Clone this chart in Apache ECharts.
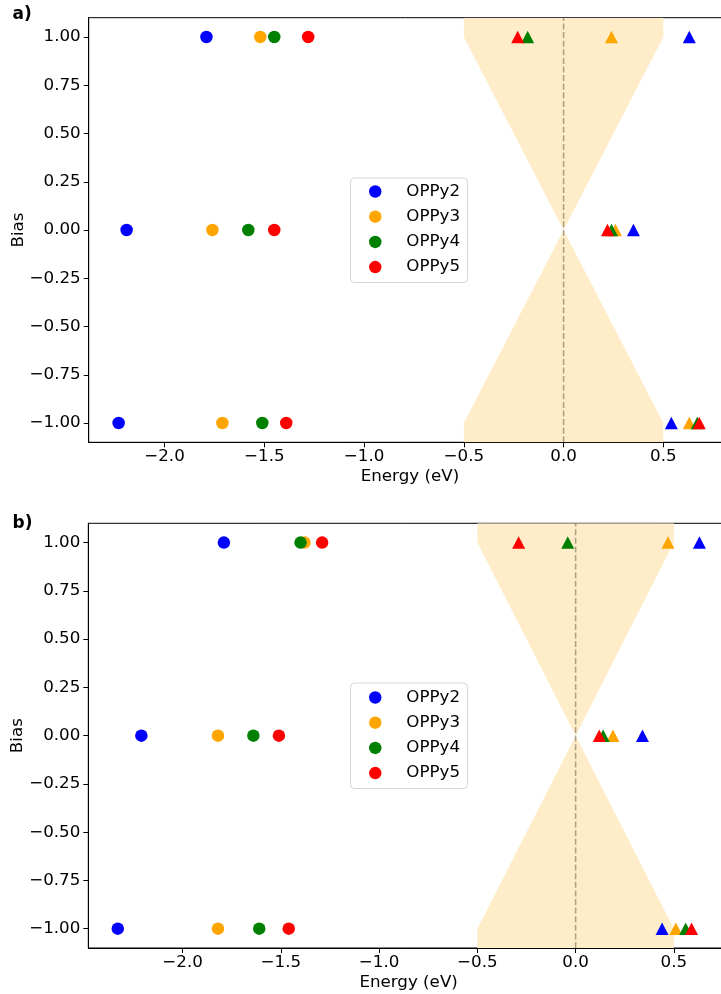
<!DOCTYPE html>
<html>
<head>
<meta charset="utf-8">
<script src="https://cdn.jsdelivr.net/npm/echarts@6/dist/echarts.min.js"></script>
<style>
  html, body { margin: 0; padding: 0; background: #ffffff; }
  #chart { width: 721px; height: 994px; }
</style>
</head>
<body>
<div id="chart"></div>
<script>
// Molecules and the bias values at which the levels were computed
const molecules = ['OPPy2', 'OPPy3', 'OPPy4', 'OPPy5'];
const biasValues = [1, 0, -1];

// Tick labels
const energyTicks = [-2.0, -1.5, -1.0, -0.5, 0.0, 0.5];
const biasTicks = [-1.0, -0.75, -0.5, -0.25, 0.0, 0.25, 0.5, 0.75, 1.0];

// Axis limits
const energyRangeA = [-2.38, 0.84];
const energyRangeB = [-2.48, 0.78];
const biasRange = [-1.1, 1.1];

// Panel a: level energies (eV) at bias 1, 0, -1
const aHomoOPPy2 = [-1.79, -2.19, -2.23];
const aHomoOPPy3 = [-1.52, -1.76, -1.71];
const aHomoOPPy4 = [-1.45, -1.58, -1.51];
const aHomoOPPy5 = [-1.28, -1.45, -1.39];
const aLumoOPPy2 = [0.63, 0.35, 0.54];
const aLumoOPPy3 = [0.24, 0.26, 0.63];
const aLumoOPPy4 = [-0.18, 0.24, 0.67];
const aLumoOPPy5 = [-0.23, 0.22, 0.68];

// Panel b: level energies (eV) at bias 1, 0, -1
const bHomoOPPy2 = [-1.79, -2.21, -2.33];
const bHomoOPPy3 = [-1.38, -1.82, -1.82];
const bHomoOPPy4 = [-1.40, -1.64, -1.61];
const bHomoOPPy5 = [-1.29, -1.51, -1.46];
const bLumoOPPy2 = [0.63, 0.34, 0.44];
const bLumoOPPy3 = [0.47, 0.19, 0.51];
const bLumoOPPy4 = [-0.04, 0.14, 0.56];
const bLumoOPPy5 = [-0.29, 0.12, 0.59];

// Bias window outline (energy, bias)
const windowEnergy = [-0.5, 0.5, 0.5, 0, 0.5, 0.5, -0.5, -0.5, 0, -0.5];
const windowBias = [1.1, 1.1, 1, 0, -1, -1.1, -1.1, -1, 0, 1];

// Zero-energy reference line
const zeroEnergy = [0, 0];
const zeroBias = [-1.1, 1.1];

const colors = ['#0000ff', '#ffa500', '#008000', '#ff0000'];
const FONT = 'DejaVu Sans';
const FS = 16.7;

const fmt = (digits) => (v) => {
  const s = Math.abs(v).toFixed(digits);
  return (v < -1e-9 ? '\u2212' : '') + s;
};

function xAxisFor(gridIndex, range) {
  return {
    type: 'value', gridIndex, min: range[0], max: range[1],
    name: 'Energy (eV)', nameLocation: 'middle', nameGap: 26, nameMoveOverlap: false,
    nameTextStyle: { fontFamily: FONT, fontSize: FS, color: '#000' },
    axisLine: { show: true, onZero: false, lineStyle: { color: '#000', width: 1 } },
    axisTick: { show: true, inside: false, length: 5, customValues: energyTicks, lineStyle: { color: '#000' } },
    axisLabel: { customValues: energyTicks, formatter: fmt(1), margin: 6, fontFamily: FONT, fontSize: FS, color: '#000' },
    splitLine: { show: false }
  };
}

function yAxisFor(gridIndex) {
  return {
    type: 'value', gridIndex, min: biasRange[0], max: biasRange[1],
    name: 'Bias', nameLocation: 'middle', nameGap: 62, nameMoveOverlap: false,
    nameTextStyle: { fontFamily: FONT, fontSize: FS, color: '#000' },
    axisLine: { show: true, onZero: false, lineStyle: { color: '#000', width: 1 } },
    axisTick: { show: true, inside: false, length: 5, customValues: biasTicks, lineStyle: { color: '#000' } },
    axisLabel: { customValues: biasTicks, formatter: fmt(2), margin: 8, fontFamily: FONT, fontSize: FS, color: '#000' },
    splitLine: { show: false }
  };
}

function panelSeries(gridIndex, homo, lumo) {
  const out = [];
  // bias window
  out.push({
    type: 'custom', xAxisIndex: gridIndex, yAxisIndex: gridIndex,
    silent: true, clip: true, z: 1,
    data: windowEnergy.map((e, i) => [e, windowBias[i]]),
    renderItem: (params, api) => {
      if (params.dataIndex !== 0) return { type: 'group', children: [] };
      const pts = windowEnergy.map((e, i) => api.coord([e, windowBias[i]]));
      return { type: 'polygon', shape: { points: pts }, style: { fill: '#feedc8' } };
    }
  });
  // zero-energy dashed line
  out.push({
    type: 'line', xAxisIndex: gridIndex, yAxisIndex: gridIndex, silent: true, z: 2,
    data: zeroEnergy.map((e, i) => [e, zeroBias[i]]),
    symbol: 'none',
    lineStyle: { color: 'rgba(115,105,85,0.6)', width: 1.5, type: [6, 2.6] }
  });
  molecules.forEach((m, k) => {
    out.push({
      type: 'scatter', name: m, xAxisIndex: gridIndex, yAxisIndex: gridIndex, z: 3,
      symbol: 'circle', symbolSize: 12.5,
      itemStyle: { color: colors[k], opacity: 1 },
      data: homo[k].map((e, i) => [e, biasValues[i]])
    });
  });
  molecules.forEach((m, k) => {
    out.push({
      type: 'scatter', name: m + ' unoccupied', xAxisIndex: gridIndex, yAxisIndex: gridIndex, z: 3,
      symbol: 'triangle', symbolSize: [13, 12.5],
      itemStyle: { color: colors[k], opacity: 1 },
      data: lumo[k].map((e, i) => [e, biasValues[i]])
    });
  });
  return out;
}

function legendFor(top) {
  return {
    data: molecules, orient: 'vertical', left: 369, top: top,
    padding: 0, itemGap: 5.2, itemWidth: 52, itemHeight: 12.5, icon: 'circle',
    selectedMode: false, z: 5,
    textStyle: { fontFamily: FONT, fontSize: FS, color: '#000', lineHeight: 20 }
  };
}

function legendFrame(y, h) {
  return {
    type: 'rect', z: 4,
    shape: { x: 350.5, y: y, width: 117, height: h, r: 4 },
    style: { fill: 'rgba(255,255,255,0.8)', stroke: '#d6d6d6', lineWidth: 1 }
  };
}

const chart = echarts.init(document.getElementById('chart'), null, { renderer: 'canvas' });
chart.setOption({
  animation: false,
  backgroundColor: '#ffffff',
  grid: [
    { left: 88.7, top: 17.7, width: 642.5, height: 424.6, show: true, borderColor: '#000', borderWidth: 1, backgroundColor: 'transparent', containLabel: false, outerBoundsMode: 'none' },
    { left: 88.3, top: 523.3, width: 640.6, height: 424.7, show: true, borderColor: '#000', borderWidth: 1, backgroundColor: 'transparent', containLabel: false, outerBoundsMode: 'none' }
  ],
  xAxis: [xAxisFor(0, energyRangeA), xAxisFor(1, energyRangeB)],
  yAxis: [yAxisFor(0), yAxisFor(1)],
  legend: [legendFor(181.5), legendFor(687.5)],
  graphic: [
    legendFrame(178, 104.5),
    legendFrame(683, 105.5),
    { type: 'text', z: 6, style: { x: 12.5, y: 15, text: 'a)', font: 'bold 17px "DejaVu Sans"', fill: '#000', verticalAlign: 'middle' } },
    { type: 'text', z: 6, style: { x: 12.5, y: 524, text: 'b)', font: 'bold 17px "DejaVu Sans"', fill: '#000', verticalAlign: 'middle' } }
  ],
  series: [].concat(
    panelSeries(0, [aHomoOPPy2, aHomoOPPy3, aHomoOPPy4, aHomoOPPy5], [aLumoOPPy2, aLumoOPPy3, aLumoOPPy4, aLumoOPPy5]),
    panelSeries(1, [bHomoOPPy2, bHomoOPPy3, bHomoOPPy4, bHomoOPPy5], [bLumoOPPy2, bLumoOPPy3, bLumoOPPy4, bLumoOPPy5])
  )
});
</script>
</body>
</html>
